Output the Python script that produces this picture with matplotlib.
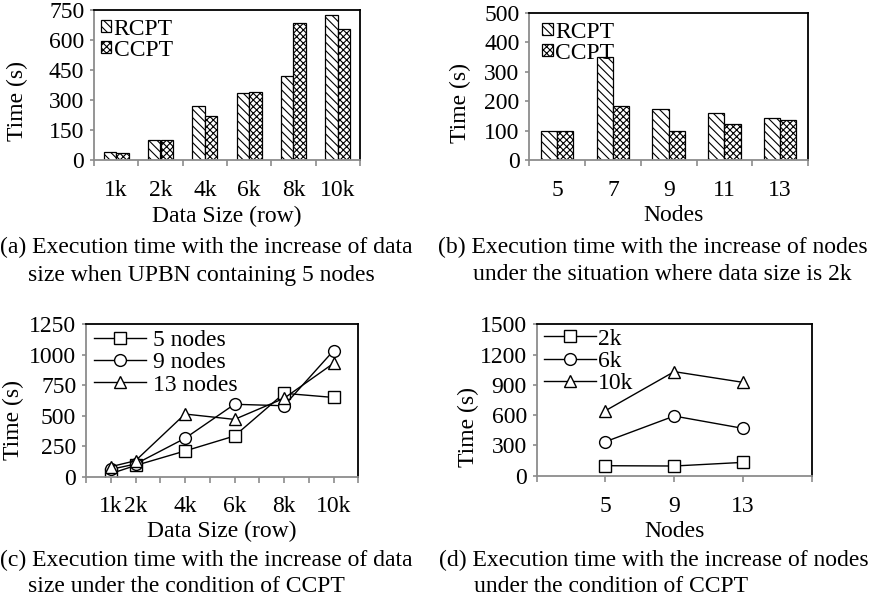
import matplotlib
matplotlib.use("Agg")
import matplotlib.pyplot as plt
import numpy as np

plt.rcParams['font.family'] = ['Liberation Serif', 'DejaVu Serif']
plt.rcParams['font.size'] = 17
plt.rcParams['hatch.linewidth'] = 0.8

# ---- data ----
sizes_a = ['1k', '2k', '4k', '6k', '8k', '10k']
rcpt_a = [42, 100, 267, 333, 417, 722]
ccpt_a = [33, 100, 217, 338, 683, 653]

nodes_b = ['5', '7', '9', '11', '13']
rcpt_b = [100, 350, 173, 161, 142]
ccpt_b = [100, 184, 97, 123, 136]

sizes_c = [1, 2, 4, 6, 8, 10]
sizes_c_labels = ['1k', '2k', '4k', '6k', '8k', '10k']
c_5nodes = [25, 92, 211, 334, 684, 650]
c_9nodes = [60, 104, 315, 594, 582, 1034]
c_13nodes = [82, 131, 514, 470, 643, 930]

nodes_d = [5, 9, 13]
d_2k = [99, 96, 132]
d_6k = [337, 591, 469]
d_10k = [644, 1031, 925]

W, H = 877, 607
fig = plt.figure(figsize=(W / 100, H / 100), dpi=100)

def ax_rect(l, r, t, b):
    return [l / W, 1 - b / H, (r - l) / W, (b - t) / H]

GRAY = '#8c8c8c'

def style(ax, xpad):
    ax.spines['left'].set_color(GRAY)
    ax.spines['bottom'].set_color(GRAY)
    ax.spines['top'].set_color('black')
    ax.spines['right'].set_color('black')
    for s in ax.spines.values():
        s.set_linewidth(1.3)
    ax.tick_params(axis='y', which='both', direction='out', length=3, width=1.2,
                   color=GRAY, pad=4)
    ax.tick_params(axis='x', which='major', direction='out', length=4, width=1.2,
                   color=GRAY, pad=xpad)

def ylab(ax, x, y):
    ax.set_ylabel('Time (s)', va='center', ha='center')
    ax.yaxis.set_label_coords(x, y)

# ---- (a) ----
ax = fig.add_axes(ax_rect(94, 360, 9.5, 160))
x = np.arange(len(sizes_a))
bw = 0.28
ax.bar(x - bw / 2, rcpt_a, bw, color='white', edgecolor='black', hatch='\\\\\\\\',
       linewidth=0.9, label='RCPT')
ax.bar(x + bw / 2, ccpt_a, bw, color='white', edgecolor='black', hatch='xxxxx',
       linewidth=0.9, label='CCPT')
ax.set_xlim(-0.5, len(sizes_a) - 0.5)
ax.set_ylim(0, 750)
ax.set_yticks(np.arange(0, 751, 150))
ax.set_xticks(np.arange(-0.5, len(sizes_a), 1.0))
ax.set_xticklabels([])
ax.set_xticks(x, minor=True)
ax.set_xticklabels(sizes_a, minor=True)
style(ax, 8)
ax.tick_params(axis='x', which='minor', length=0, pad=14.5)
ylab(ax, -0.289, 0.392)
ax.set_xlabel('Data Size (row)', va='center')
ax.xaxis.set_label_coords(0.5, -0.372)
ax.legend(loc='upper left', bbox_to_anchor=(0.025, 0.94), frameon=False,
          handlelength=0.45, handleheight=0.45, handletextpad=0.1, labelspacing=0.0,
          borderaxespad=0, borderpad=0)

# ---- (b) ----
ax = fig.add_axes(ax_rect(529.3, 808, 12.7, 160))
x = np.arange(len(nodes_b))
bw = 0.29
ax.bar(x - bw / 2, rcpt_b, bw, color='white', edgecolor='black', hatch='\\\\\\\\',
       linewidth=0.9, label='RCPT')
ax.bar(x + bw / 2, ccpt_b, bw, color='white', edgecolor='black', hatch='xxxxx',
       linewidth=0.9, label='CCPT')
ax.set_xlim(-0.5, len(nodes_b) - 0.5)
ax.set_ylim(0, 500)
ax.set_yticks(np.arange(0, 501, 100))
ax.set_xticks(np.arange(-0.5, len(nodes_b), 1.0))
ax.set_xticklabels([])
ax.set_xticks(x, minor=True)
ax.set_xticklabels(nodes_b, minor=True)
style(ax, 8)
ax.tick_params(axis='x', which='minor', length=0, pad=14.5)
ylab(ax, -0.246, 0.39)
ax.set_xlabel('Nodes', va='center')
ax.xaxis.set_label_coords(0.516, -0.38)
ax.legend(loc='upper left', bbox_to_anchor=(0.047, 0.94), frameon=False,
          handlelength=0.45, handleheight=0.45, handletextpad=0.1, labelspacing=0.0,
          borderaxespad=0, borderpad=0)

mk = dict(color='black', linewidth=1.0, markersize=8.5, markerfacecolor='white',
          markeredgecolor='black', markeredgewidth=1.0)

# ---- (c) ----
ax = fig.add_axes(ax_rect(86, 358.3, 324.3, 476.7))
ax.plot(sizes_c, c_5nodes, marker='s', label='5 nodes', **mk)
ax.plot(sizes_c, c_9nodes, marker='o', label='9 nodes', **mk)
ax.plot(sizes_c, c_13nodes, marker='^', label='13 nodes', **mk)
ax.set_xlim(0, 11)
ax.set_ylim(0, 1250)
ax.set_yticks(np.arange(0, 1251, 250))
ticks_c = np.arange(0, 12)
ax.set_xticks(ticks_c)
lab_map = dict(zip(sizes_c, sizes_c_labels))
ax.set_xticklabels([lab_map.get(t, '') for t in ticks_c])
style(ax, 10)
ylab(ax, -0.267, 0.372)
ax.set_xlabel('Data Size (row)', va='center')
ax.xaxis.set_label_coords(0.5, -0.36)
ax.legend(loc='upper left', bbox_to_anchor=(0.031, 0.965), frameon=False, numpoints=1,
          handlelength=2.2, handletextpad=0.28, labelspacing=0.03,
          borderaxespad=0, borderpad=0)

# ---- (d) ----
ax = fig.add_axes(ax_rect(536.7, 811.7, 324.3, 475.7))
ax.plot(nodes_d, d_2k, marker='s', label='2k', **mk)
ax.plot(nodes_d, d_6k, marker='o', label='6k', **mk)
ax.plot(nodes_d, d_10k, marker='^', label='10k', **mk)
ax.set_xlim(1, 17)
ax.set_ylim(0, 1500)
ax.set_yticks(np.arange(0, 1501, 300))
ticks_d = [1, 5, 9, 13, 17]
ax.set_xticks(ticks_d)
ax.set_xticklabels([str(t) if t in nodes_d else '' for t in ticks_d])
style(ax, 10.5)
ylab(ax, -0.249, 0.324)
ax.set_xlabel('Nodes', va='center')
ax.xaxis.set_label_coords(0.5, -0.37)
ax.legend(loc='upper left', bbox_to_anchor=(0.026, 0.975), frameon=False, numpoints=1,
          handlelength=2.2, handletextpad=0.1, labelspacing=0.03,
          borderaxespad=0, borderpad=0)

# ---- captions ----
caps = [
    (0, 247, '(a) Execution time with the increase of data'),
    (28, 275, 'size when UPBN containing 5 nodes'),
    (438, 247, '(b) Execution time with the increase of nodes'),
    (473, 275, 'under the situation where data size is 2k'),
    (0, 560, '(c) Execution time with the increase of data'),
    (28, 587, 'size under the condition of CCPT'),
    (439, 560, '(d) Execution time with the increase of nodes'),
    (474, 587, 'under the condition of CCPT'),
]
for cx, cy, t in caps:
    fig.text(cx / W, 1 - cy / H, t, ha='left', va='center')

fig.savefig('out.png', dpi=100)
